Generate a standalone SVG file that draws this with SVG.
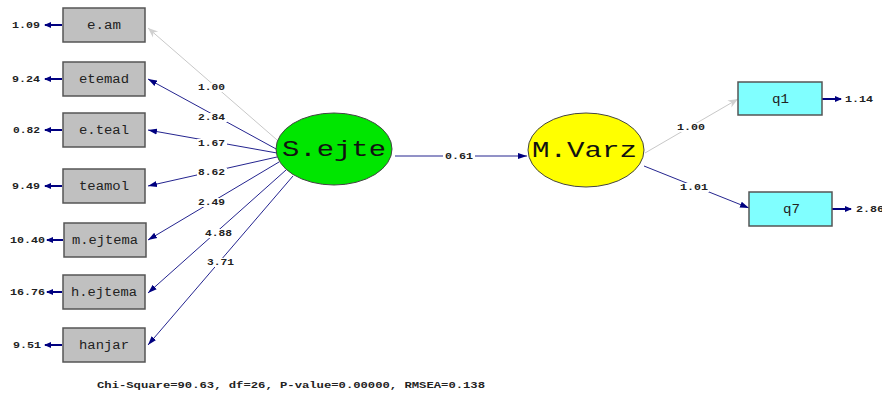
<svg xmlns="http://www.w3.org/2000/svg" width="882" height="396" viewBox="0 0 882 396">
<style>
.box{fill:#c0c0c0;stroke:#555;stroke-width:1.5}
.obs{fill:#80ffff;stroke:#555;stroke-width:1.5}
.blab{font-family:"Liberation Mono","DejaVu Sans Mono",monospace;font-size:12px;fill:#222}
.num{font-family:"Liberation Mono","DejaVu Sans Mono",monospace;font-size:9px;fill:#222;font-weight:bold}
.big{font-family:"Liberation Mono","DejaVu Sans Mono",monospace;font-size:22px;fill:#111}
.path{stroke:#24248f;stroke-width:1;fill:none;marker-end:url(#ah)}
.gpath{stroke:#c8c8c8;stroke-width:1;fill:none;marker-end:url(#gh)}
.err{stroke:#000080;stroke-width:2;fill:none;marker-end:url(#eh)}
.bg{fill:#fff}
</style>
<defs>
<marker id="ah" markerUnits="userSpaceOnUse" markerWidth="10" markerHeight="8" refX="9" refY="4" orient="auto"><path d="M0,1 L9,4 L0,7 Z" fill="#000080"/></marker>
<marker id="gh" markerUnits="userSpaceOnUse" markerWidth="12" markerHeight="10" refX="10" refY="5" orient="auto"><path d="M0,1 L10,5 L0,9 L3,5 Z" fill="#d0d0d0"/></marker>
<marker id="eh" markerUnits="userSpaceOnUse" markerWidth="8" markerHeight="8" refX="6" refY="4" orient="auto"><path d="M0,1 L7,4 L0,7 Z" fill="#000080"/></marker>
</defs>
<rect width="882" height="396" fill="#fff"/>
<g id="connectors">
<line class="gpath" x1="284" y1="146" x2="148" y2="28"/>
<line class="path" x1="278" y1="150" x2="148" y2="79"/>
<line class="path" x1="277" y1="153" x2="148" y2="130"/>
<line class="path" x1="277" y1="157" x2="148" y2="186"/>
<line class="path" x1="279" y1="162" x2="148" y2="240"/>
<line class="path" x1="286" y1="170" x2="148" y2="293"/>
<line class="path" x1="293" y1="176" x2="148" y2="345"/>
<line class="path" x1="395" y1="156" x2="527" y2="156"/>
<line class="gpath" x1="645" y1="153" x2="738" y2="99"/>
<line class="path" x1="644" y1="166" x2="749" y2="208"/>
<line class="err" x1="62" y1="25" x2="45" y2="25"/>
<line class="err" x1="62" y1="79" x2="45" y2="79"/>
<line class="err" x1="62" y1="130" x2="45" y2="130"/>
<line class="err" x1="62" y1="186" x2="45" y2="186"/>
<line class="err" x1="63" y1="240" x2="47" y2="240"/>
<line class="err" x1="62" y1="292" x2="47" y2="292"/>
<line class="err" x1="62" y1="345" x2="45" y2="345"/>
<line class="err" x1="822" y1="99" x2="841" y2="99"/>
<line class="err" x1="832" y1="209" x2="851" y2="209"/>
<rect class="bg" x="197" y="83" width="30" height="9"/>
<rect class="bg" x="197" y="113" width="30" height="9"/>
<rect class="bg" x="197" y="139" width="30" height="9"/>
<rect class="bg" x="197" y="168" width="30" height="9"/>
<rect class="bg" x="197" y="198" width="30" height="9"/>
<rect class="bg" x="204" y="229" width="30" height="9"/>
<rect class="bg" x="206" y="258" width="30" height="9"/>
<rect class="bg" x="443" y="151" width="32" height="10"/>
<rect class="bg" x="676" y="123" width="30" height="9"/>
<rect class="bg" x="679" y="183" width="30" height="9"/>
<text class="num" x="198" y="90" textLength="27" lengthAdjust="spacingAndGlyphs">1.00</text>
<text class="num" x="198" y="120" textLength="27" lengthAdjust="spacingAndGlyphs">2.84</text>
<text class="num" x="198" y="146" textLength="27" lengthAdjust="spacingAndGlyphs">1.67</text>
<text class="num" x="198" y="175" textLength="27" lengthAdjust="spacingAndGlyphs">8.62</text>
<text class="num" x="198" y="205" textLength="27" lengthAdjust="spacingAndGlyphs">2.49</text>
<text class="num" x="205" y="236" textLength="27" lengthAdjust="spacingAndGlyphs">4.88</text>
<text class="num" x="207" y="265" textLength="27" lengthAdjust="spacingAndGlyphs">3.71</text>
<text class="num" x="445" y="159" textLength="28" lengthAdjust="spacingAndGlyphs">0.61</text>
<text class="num" x="677" y="130" textLength="28" lengthAdjust="spacingAndGlyphs">1.00</text>
<text class="num" x="680" y="190" textLength="28" lengthAdjust="spacingAndGlyphs">1.01</text>
<text class="num" x="12" y="28" textLength="28" lengthAdjust="spacingAndGlyphs">1.09</text>
<text class="num" x="12" y="82" textLength="28" lengthAdjust="spacingAndGlyphs">9.24</text>
<text class="num" x="13" y="133" textLength="27" lengthAdjust="spacingAndGlyphs">0.82</text>
<text class="num" x="12" y="189" textLength="28" lengthAdjust="spacingAndGlyphs">9.49</text>
<text class="num" x="10" y="243" textLength="35" lengthAdjust="spacingAndGlyphs">10.40</text>
<text class="num" x="10" y="295" textLength="35" lengthAdjust="spacingAndGlyphs">16.76</text>
<text class="num" x="13" y="348" textLength="28" lengthAdjust="spacingAndGlyphs">9.51</text>
<text class="num" x="845" y="102" textLength="28" lengthAdjust="spacingAndGlyphs">1.14</text>
<text class="num" x="856" y="212" textLength="28" lengthAdjust="spacingAndGlyphs">2.86</text>
</g>
<g id="e_am"><rect class="box" x="63" y="8" width="82" height="34"/><text class="blab" x="87" y="29" textLength="34" lengthAdjust="spacingAndGlyphs">e.am</text></g>
<g id="etemad"><rect class="box" x="63" y="62" width="82" height="34"/><text class="blab" x="79" y="83" textLength="50" lengthAdjust="spacingAndGlyphs">etemad</text></g>
<g id="e_teal"><rect class="box" x="63" y="113" width="82" height="34"/><text class="blab" x="79" y="134" textLength="50" lengthAdjust="spacingAndGlyphs">e.teal</text></g>
<g id="teamol"><rect class="box" x="63" y="169" width="82" height="34"/><text class="blab" x="79" y="190" textLength="50" lengthAdjust="spacingAndGlyphs">teamol</text></g>
<g id="m_ejtema"><rect class="box" x="64" y="223" width="82" height="34"/><text class="blab" x="72" y="244" textLength="66" lengthAdjust="spacingAndGlyphs">m.ejtema</text></g>
<g id="h_ejtema"><rect class="box" x="63" y="275" width="82" height="34"/><text class="blab" x="71" y="296" textLength="66" lengthAdjust="spacingAndGlyphs">h.ejtema</text></g>
<g id="hanjar"><rect class="box" x="63" y="328" width="82" height="34"/><text class="blab" x="79" y="349" textLength="50" lengthAdjust="spacingAndGlyphs">hanjar</text></g>
<g id="S_ejte"><ellipse cx="334" cy="149" rx="58" ry="36" fill="#00e600" stroke="#444" stroke-width="1"/><text class="big" x="282" y="156" textLength="104" lengthAdjust="spacingAndGlyphs">S.ejte</text></g>
<g id="M_Varz"><ellipse cx="586" cy="150" rx="58" ry="37" fill="#ffff00" stroke="#444" stroke-width="1"/><text class="big" x="532" y="157" textLength="105" lengthAdjust="spacingAndGlyphs">M.Varz</text></g>
<g id="q1"><rect class="obs" x="738" y="82" width="84" height="33"/><text class="blab" x="772" y="103" textLength="17" lengthAdjust="spacingAndGlyphs">q1</text></g>
<g id="q7"><rect class="obs" x="749" y="192" width="83" height="34"/><text class="blab" x="783" y="213" textLength="17" lengthAdjust="spacingAndGlyphs">q7</text></g>
<text class="num" x="97" y="388" textLength="388" lengthAdjust="spacingAndGlyphs">Chi-Square=90.63, df=26, P-value=0.00000, RMSEA=0.138</text>
</svg>
